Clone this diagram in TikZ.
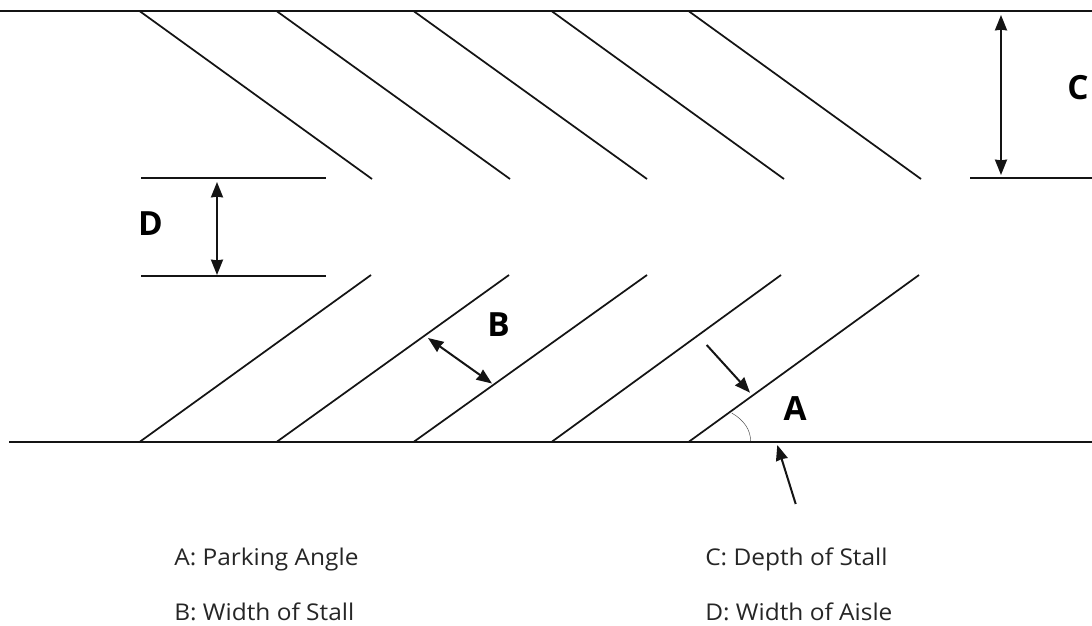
\documentclass[tikz,border=0pt]{standalone}
\usepackage{fontspec}
\setmainfont{Open Sans}
\usetikzlibrary{arrows.meta}
\tikzset{
  px/.style={x=0.75pt,y=-0.75pt},
  ln/.style={line width=1.3pt,black!92},
  dimarrow/.style={line width=1.5pt,black!92,{Stealth[length=11.5pt,width=9pt,inset=0.5pt]}-{Stealth[length=11.5pt,width=9pt,inset=0.5pt]}},
  onearrow/.style={line width=1.5pt,black!92,-{Stealth[length=11.5pt,width=9pt,inset=0.5pt]}},
  big/.style={font=\bfseries\fontsize{25}{30}\selectfont,inner sep=0pt},
  captext/.style={font=\fontsize{17.3}{20}\selectfont,anchor=base west,inner sep=0pt,text=black!85,xscale=1.06,transform shape}
}
\begin{document}
\begin{tikzpicture}[px]
\useasboundingbox (0,0) rectangle (1092,625);
\fill[white] (0,0) rectangle (1092,625);
\draw[ln] (0,11)--(1092,11);
\draw[ln] (9,442)--(1092,442);
\foreach \x/\u/\l in {139.5/372/371,276.5/510/509,413.5/647/647,551.5/784/781,688.5/921/919}{
  \draw[ln] (\x,11)--(\u,179);
  \draw[ln] (\x,442)--(\l,275);
}
\draw[ln] (141,178)--(326,178);
\draw[ln] (141,276)--(326,276);
\draw[ln] (970,178)--(1092,178);
\coordinate (c1) at (1001,15); \coordinate (c2) at (1001,175);
\draw[dimarrow] (c1)--(c2);
\coordinate (d1) at (217,182); \coordinate (d2) at (217,275);
\draw[dimarrow] (d1)--(d2);
\coordinate (b1) at (428,338); \coordinate (b2) at (492,383.5);
\draw[dimarrow] (b1)--(b2);
\coordinate (a1) at (706.7,345); \coordinate (a2) at (750,392.7);
\draw[onearrow] (a1)--(a2);
\coordinate (a3) at (795.7,504); \coordinate (a4) at (777.3,445);
\draw[onearrow] (a3)--(a4);
\draw[line width=0.35pt,black!70] (731.7,413) .. controls (744,420) and (750.6,430) .. (750.6,441);
\node[big] (lc) at (1078,87.5) {C};
\node[big] (ld) at (150.5,224) {D};
\node[big] (lb) at (498.5,325) {B};
\node[big] (la) at (795,408.5) {A};
\node[captext] (t1) at (174,565) {A: Parking Angle};
\node[captext] (t2) at (174,620) {B: Width of Stall};
\node[captext] (t3) at (705,565) {C: Depth of Stall};
\node[captext] (t4) at (705,620) {D: Width of Aisle};
\end{tikzpicture}
\end{document}
